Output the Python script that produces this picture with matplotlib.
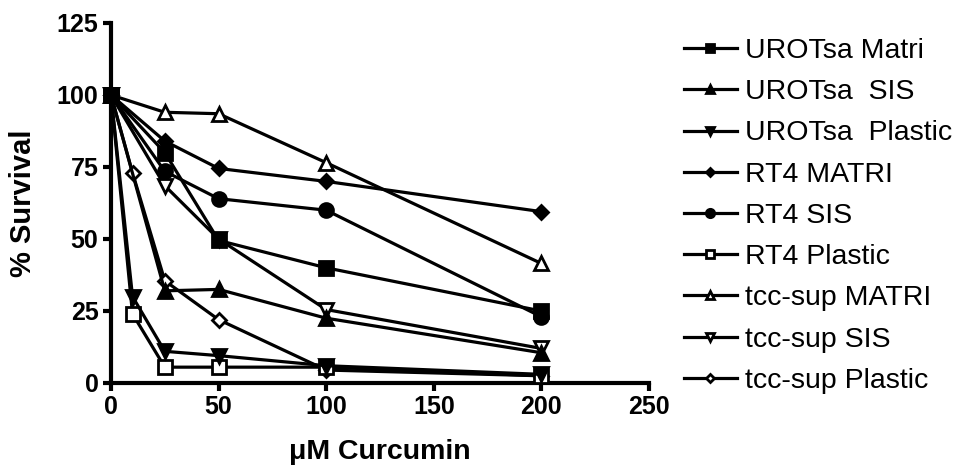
import matplotlib
matplotlib.use("Agg")
import matplotlib.pyplot as plt

plt.rcParams['font.family'] = ['Liberation Sans', 'DejaVu Sans']

# doses (uM curcumin)
dose5 = [0, 25, 50, 100, 200]
dose6 = [0, 10, 25, 50, 100, 200]

labels = ["UROTsa Matri", "UROTsa  SIS", "UROTsa  Plastic",
          "RT4 MATRI", "RT4 SIS", "RT4 Plastic",
          "tcc-sup MATRI", "tcc-sup SIS", "tcc-sup Plastic"]

urotsa_matri = [100, 80, 49.5, 40, 25]
urotsa_sis = [100, 32, 32.5, 22.5, 10.5]
urotsa_plastic = [100, 30, 11, 9.5, 6, 3]
rt4_matri = [100, 84, 74.5, 70, 59.5]
rt4_sis = [100, 73.5, 64, 60, 23]
rt4_plastic = [100, 24, 5.5, 5.5, 5.5, 2.5]
tcc_matri = [100, 94, 93.5, 76.5, 41.5]
tcc_sis = [100, 68.5, 50, 25.5, 12]
tcc_plastic = [100, 73, 35.5, 22, 4.5, 2.5]

series = [
    (dose5, urotsa_matri, "s", "k"),
    (dose5, urotsa_sis, "^", "k"),
    (dose6, urotsa_plastic, "v", "k"),
    (dose5, rt4_matri, "D", "k"),
    (dose5, rt4_sis, "o", "k"),
    (dose6, rt4_plastic, "s", "w"),
    (dose5, tcc_matri, "^", "w"),
    (dose5, tcc_sis, "v", "w"),
    (dose6, tcc_plastic, "D", "w"),
]

fig = plt.figure(figsize=(9.58, 4.70), dpi=100)
ax = fig.add_axes([111/958, 87/470, (649-111)/958, (383-23)/470])

for i, (x, y, m, fc) in enumerate(series):
    ms = 7.5 if m == "D" else 10
    ax.plot(x, y, marker=m, color="k", mfc=fc, mec="k", mew=2,
            ms=ms, lw=2.3, label=labels[i], clip_on=False, zorder=20 - i)

ax.set_xlim(0, 250)
ax.set_ylim(0, 125)
ax.set_xticks([0, 50, 100, 150, 200, 250])
ax.set_yticks([0, 25, 50, 75, 100, 125])
for s in ["top", "right"]:
    ax.spines[s].set_visible(False)
for s in ["left", "bottom"]:
    ax.spines[s].set_linewidth(3)
ax.tick_params(width=3, length=6, direction="out", labelsize=18, pad=3)
for t in ax.get_xticklabels() + ax.get_yticklabels():
    t.set_fontweight("bold")

ax.set_xlabel("\u03bcM Curcumin", fontsize=20.5, fontweight="bold", labelpad=14)
ax.set_ylabel("% Survival", fontsize=21, fontweight="bold", labelpad=14)

fig.legend(loc="upper left", bbox_to_anchor=(684/958, 1 - 38/470),
           frameon=False, fontsize=20.5, markerscale=0.6,
           handlelength=1.85, handletextpad=0.3, labelspacing=0.535,
           borderpad=0, borderaxespad=0)

fig.savefig("out.png", dpi=100)
